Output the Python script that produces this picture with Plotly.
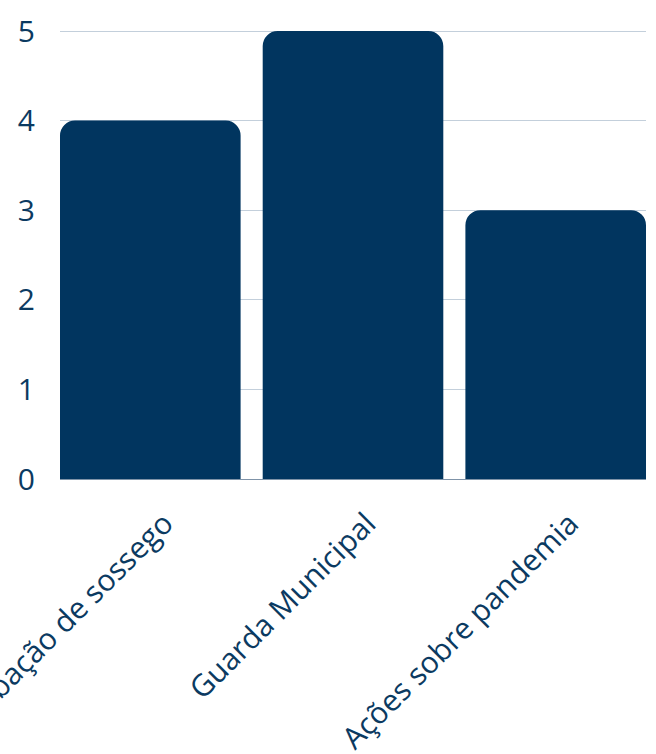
import plotly.graph_objects as go

categories = ["Perturbação de sossego", "Guarda Municipal", "Ações sobre pandemia"]
values = [4, 5, 3]
y_ticks = [0, 1, 2, 3, 4, 5]

bar_color = "#01355F"
text_color = "#0B3A61"

fig = go.Figure(go.Bar(x=categories, y=values, marker=dict(color=bar_color, line=dict(width=0))))

gap = 0.109
px_per_unit = 448 / 5
fig.update_layout(
    width=656, height=754,
    margin=dict(l=60, r=10, t=29, b=275, autoexpand=False),
    paper_bgcolor="white", plot_bgcolor="white",
    bargap=gap,
    barcornerradius=15,
    font=dict(family="Open Sans, sans-serif", color=text_color),
    showlegend=False,
)
fig.update_xaxes(
    range=[-0.5 + gap / 2, 2.5 - gap / 2],
    tickangle=-45, tickfont=dict(size=30, color=text_color),
    showgrid=False, showline=False, automargin=False,
    ticks="", ticklabelstandoff=20, ticklabelshift=14,
)
fig.update_yaxes(
    range=[0, 5 + 2 / px_per_unit], tickvals=y_ticks,
    tickfont=dict(size=30, color=text_color),
    showgrid=True, gridcolor="#C3CFDB", gridwidth=1,
    zeroline=True, zerolinecolor="#7F93A8", zerolinewidth=1,
    showline=False, automargin=False, ticks="", ticklabelstandoff=24,
)
fig.write_html("out.html")
